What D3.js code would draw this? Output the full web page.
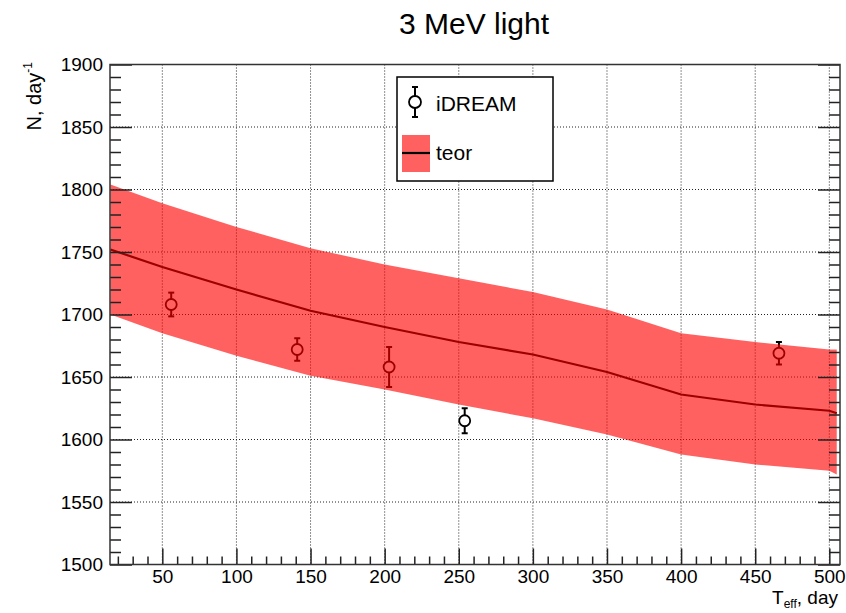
<!DOCTYPE html>
<html>
<head>
<meta charset="utf-8">
<style>
	body { margin: 0; background: #fff; }
	text { font-family: "Liberation Sans", Arial, sans-serif; fill: #000; }
</style>
</head>
<body>
<div id='vis-teor'></div>

<script src="https://d3js.org/d3.v7.min.js"></script>
<script>

	// Data //
	// ---- //

	// iDREAM measurements
	let pointDays = [56, 141, 203, 254, 466];
	let pointRate = [1708, 1672, 1658, 1615, 1669];
	let pointErr = [9.5, 9, 16, 10, 9];

	// theory curve and its band
	let teorDays = [15, 50, 100, 150, 200, 250, 300, 350, 400, 450, 500, 505];
	let teorRate = [1752, 1738, 1720, 1703, 1690, 1678, 1668, 1654, 1636, 1628, 1623, 1621];
	let teorHigh = [1804, 1789, 1770, 1753, 1740, 1729, 1718, 1704, 1685, 1678, 1672, 1672];
	let teorLow = [1700, 1685, 1667, 1651, 1640, 1628, 1617, 1604, 1588, 1580, 1575, 1572];

	let xTicks = [50, 100, 150, 200, 250, 300, 350, 400, 450, 500];
	let yTicks = [1500, 1550, 1600, 1650, 1700, 1750, 1800, 1850, 1900];


	function teorvis() {

		// Setup //
		// ----- //

		let W = 846, H = 613;
		let pLeft = 110, pRight = 840, pTop = 64.5, pBottom = 564.5;

		let svg = d3.select("#vis-teor")
			.append("svg")
				.attr("width", W)
				.attr("height", H);

		let x = d3.scaleLinear().domain([14.7, 507.2]).range([pLeft, pRight]);
		let y = d3.scaleLinear().domain([1500, 1900]).range([pBottom, pTop]);

		// grid
		let grid = svg.append("g")
			.attr("stroke", "#222")
			.attr("stroke-width", 1)
			.attr("stroke-dasharray", "1,2");
		grid.selectAll(".gx").data(xTicks).enter().append("line")
			.attr("x1", d => x(d)).attr("x2", d => x(d))
			.attr("y1", pTop).attr("y2", pBottom);
		grid.selectAll(".gy").data(yTicks.slice(1, -1)).enter().append("line")
			.attr("x1", pLeft).attr("x2", pRight)
			.attr("y1", d => y(d)).attr("y2", d => y(d));

		// points with error bars
		let pts = pointDays.map((d, i) => ({x: d, y: pointRate[i], e: pointErr[i]}));
		let pg = svg.append("g").attr("stroke", "#000").attr("stroke-width", 2).attr("fill", "none");
		pg.selectAll(".eb").data(pts).enter().append("line")
			.attr("x1", d => x(d.x)).attr("x2", d => x(d.x))
			.attr("y1", d => y(d.y + d.e)).attr("y2", d => y(d.y - d.e));
		pg.selectAll(".ct").data(pts).enter().append("line")
			.attr("x1", d => x(d.x) - 3).attr("x2", d => x(d.x) + 3)
			.attr("y1", d => y(d.y + d.e)).attr("y2", d => y(d.y + d.e));
		pg.selectAll(".cb").data(pts).enter().append("line")
			.attr("x1", d => x(d.x) - 3).attr("x2", d => x(d.x) + 3)
			.attr("y1", d => y(d.y - d.e)).attr("y2", d => y(d.y - d.e));
		pg.selectAll("circle").data(pts).enter().append("circle")
			.attr("cx", d => x(d.x)).attr("cy", d => y(d.y)).attr("r", 5.5)
			.attr("fill", "#fff").attr("stroke-width", 1.8);

		// theory line
		let teor = teorDays.map((d, i) => ({x: d, c: teorRate[i], hi: teorHigh[i], lo: teorLow[i]}));
		svg.append("path")
			.datum(teor)
			.attr("d", d3.line().x(d => x(d.x)).y(d => y(d.c)))
			.attr("fill", "none")
			.attr("stroke", "#000")
			.attr("stroke-width", 2.2);

		// band drawn on top, semi transparent like the ROOT hatch
		svg.append("path")
			.datum(teor)
			.attr("d", d3.area().x(d => x(d.x)).y0(d => y(d.lo)).y1(d => y(d.hi)))
			.attr("fill", "#ff0000")
			.attr("fill-opacity", 0.62);

		// axes, ticks inside the frame
		let xMinor = d3.range(20, 510, 10).filter(v => v % 50 != 0);
		let yMinor = d3.range(1500, 1900, 10).filter(v => v % 50 != 0);

		svg.append("g")
			.attr("transform", "translate(0," + pBottom + ")")
			.call(d3.axisBottom(x).tickValues(xMinor).tickSize(-8).tickFormat(""))
			.call(g => g.select(".domain").remove());
		svg.append("g")
			.attr("transform", "translate(0," + pBottom + ")")
			.call(d3.axisBottom(x).tickValues(xTicks).tickSize(-16).tickPadding(5).tickFormat(d3.format("d")))
			.call(g => g.select(".domain").remove())
			.call(g => g.selectAll("text").attr("font-size", 19).attr("font-family", "Liberation Sans"));

		svg.append("g")
			.attr("transform", "translate(" + pLeft + ",0)")
			.call(d3.axisLeft(y).tickValues(yMinor).tickSize(-11).tickFormat(""))
			.call(g => g.select(".domain").remove());
		svg.append("g")
			.attr("transform", "translate(" + pLeft + ",0)")
			.call(d3.axisLeft(y).tickValues(yTicks).tickSize(-22).tickPadding(7).tickFormat(d3.format("d")))
			.call(g => g.select(".domain").remove())
			.call(g => g.selectAll("text").attr("font-size", 19).attr("font-family", "Liberation Sans"));

		svg.append("g")
			.attr("transform", "translate(" + pRight + ",0)")
			.call(d3.axisRight(y).tickValues(yMinor).tickSize(-11).tickFormat(""))
			.call(g => g.select(".domain").remove());
		svg.append("g")
			.attr("transform", "translate(" + pRight + ",0)")
			.call(d3.axisRight(y).tickValues(yTicks).tickSize(-22).tickFormat(""))
			.call(g => g.select(".domain").remove());

		svg.selectAll(".tick line").attr("stroke", "#222").attr("stroke-width", 1.5);

		// frame
		svg.append("rect")
			.attr("x", pLeft).attr("y", pTop)
			.attr("width", pRight - pLeft).attr("height", pBottom - pTop)
			.attr("fill", "none")
			.attr("stroke", "#333")
			.attr("stroke-width", 1.5);

		// titles
		svg.append("text")
			.attr("x", 474).attr("y", 34)
			.attr("text-anchor", "middle")
			.attr("font-size", 30)
			.text("3 MeV light");

		let xt = svg.append("text")
			.attr("x", 838).attr("y", 604)
			.attr("text-anchor", "end")
			.attr("font-size", 19);
		xt.append("tspan").text("T");
		xt.append("tspan").attr("font-size", 12).attr("dy", 4).text("eff");
		xt.append("tspan").attr("dy", -4).text(", day");

		let yt = svg.append("text")
			.attr("transform", "translate(41,62) rotate(-90)")
			.attr("text-anchor", "end")
			.attr("font-size", 20);
		yt.append("tspan").text("N, day");
		yt.append("tspan").attr("font-size", 12).attr("dy", -9).text("-1");

		// legend
		let lg = svg.append("g");
		lg.append("rect")
			.attr("x", 397).attr("y", 77)
			.attr("width", 156).attr("height", 104)
			.attr("fill", "#fff")
			.attr("stroke", "#000")
			.attr("stroke-width", 1.5);
		lg.append("line").attr("x1", 415).attr("x2", 415).attr("y1", 87).attr("y2", 117)
			.attr("stroke", "#000").attr("stroke-width", 2);
		lg.append("line").attr("x1", 412).attr("x2", 418).attr("y1", 87).attr("y2", 87)
			.attr("stroke", "#000").attr("stroke-width", 2);
		lg.append("line").attr("x1", 412).attr("x2", 418).attr("y1", 117).attr("y2", 117)
			.attr("stroke", "#000").attr("stroke-width", 2);
		lg.append("circle").attr("cx", 415).attr("cy", 102).attr("r", 6)
			.attr("fill", "#fff").attr("stroke", "#000").attr("stroke-width", 1.8);
		lg.append("text").attr("x", 436).attr("y", 111).attr("font-size", 21).text("iDREAM");

		lg.append("rect").attr("x", 402).attr("y", 135)
			.attr("width", 28).attr("height", 37)
			.attr("fill", "#ff0000").attr("fill-opacity", 0.62);
		lg.append("line").attr("x1", 402).attr("x2", 430).attr("y1", 153).attr("y2", 153)
			.attr("stroke", "#000").attr("stroke-width", 2.2);
		lg.append("text").attr("x", 436).attr("y", 160).attr("font-size", 21).text("teor");
	}

	teorvis();
</script>
</body>
</html>
